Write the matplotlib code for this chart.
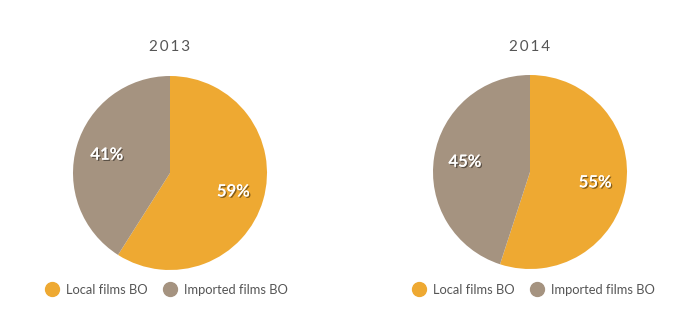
import matplotlib.pyplot as plt
import matplotlib.patheffects as pe
from matplotlib.lines import Line2D

plt.rcParams['font.family'] = ['Lato', 'DejaVu Sans']

years = ['2013', '2014']
labels = ['Local films BO', 'Imported films BO']
local_share = [59, 55]
imported_share = [41, 45]
colors = ['#EEA932', '#A59380']

W, H = 700, 332
fig = plt.figure(figsize=(W / 100, H / 100), dpi=100)

# pie centres / radius in pixels (top-left origin)
centres = [(170, 173), (530, 172)]
radius = 97
legend_x = [166, 533]
legend_y = 290

shadow = [pe.withSimplePatchShadow(offset=(1, -1), shadow_rgbFace='black', alpha=0.45), pe.Normal()]

for i, yr in enumerate(years):
    cx, cy = centres[i]
    ax = fig.add_axes([(cx - radius) / W, 1 - (cy + radius) / H, 2 * radius / W, 2 * radius / H])
    vals = [local_share[i], imported_share[i]]
    wedges, _, autotexts = ax.pie(vals, colors=colors, startangle=90, counterclock=False,
                                  autopct=lambda p: '%d%%' % round(p), pctdistance=0.68, radius=1,
                                  wedgeprops=dict(linewidth=0))
    for t in autotexts:
        t.set_color('white')
        t.set_fontsize(12)
        t.set_fontweight('semibold')
        t.set_path_effects(shadow)
    ax.set_xlim(-1, 1)
    ax.set_ylim(-1, 1)
    ax.set_aspect('equal')
    fig.text(cx / W, 1 - 47 / H, '\u2009'.join(yr), ha='center', va='center',
             fontsize=11, color='#555555')

    handles = [Line2D([], [], marker='o', linestyle='', markersize=10, color=c) for c in colors]
    fig.legend(handles, labels, loc='center', ncol=2, frameon=False,
               bbox_to_anchor=(legend_x[i] / W, 1 - legend_y / H), fontsize=9.3,
               labelcolor='#555555', handletextpad=0.45, columnspacing=1.2, handlelength=1.2)

fig.savefig('out.png', dpi=100, facecolor='white')
